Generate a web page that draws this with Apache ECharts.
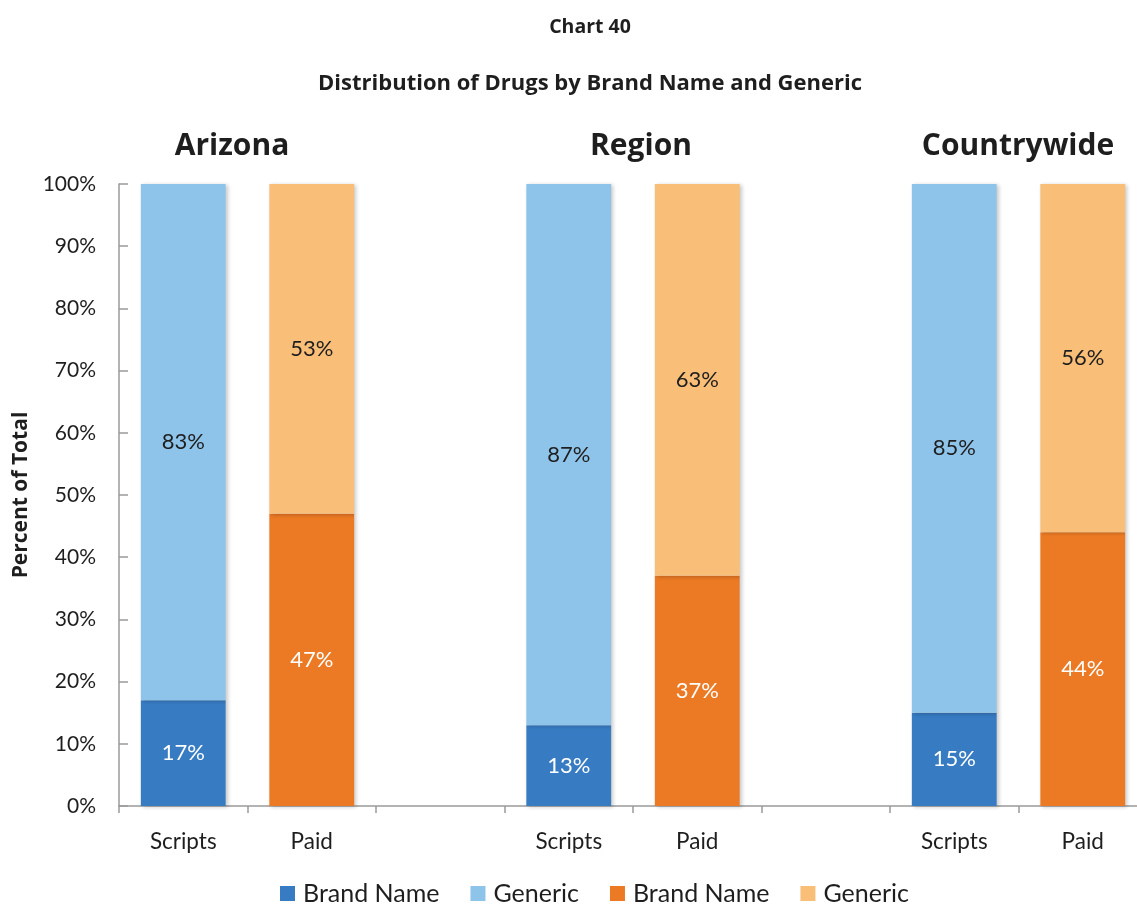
<!DOCTYPE html>
<html>
<head>
<meta charset="utf-8">
<script src="https://cdn.jsdelivr.net/npm/echarts@6/dist/echarts.min.js"></script>
<style>
  html, body { margin: 0; padding: 0; background: #fff; }
  #chart { width: 1137px; height: 905px; }
</style>
</head>
<body>
<div id="chart"></div>
<script>
// Groups shown as pairs of bars (Scripts / Paid), separated by a blank slot
const groups = ['Arizona', 'Region', 'Countrywide'];
const categories = ['Scripts', 'Paid', '', 'Scripts', 'Paid', '', 'Scripts', 'Paid'];

// Percent of total per group
const scriptsBrand = [17, 13, 15];
const scriptsGeneric = [83, 87, 85];
const paidBrand = [47, 37, 44];
const paidGeneric = [53, 63, 56];

const yTicks = [0, 10, 20, 30, 40, 50, 60, 70, 80, 90, 100];

const FONT = 'Lato, "Open Sans", sans-serif';
const BOLD_FONT = '"Open Sans", Lato, sans-serif';
const TEXT = '#1e1e1e';

// Spread per-group values onto the 8 category slots
function spread(values, slot) {
  const out = categories.map(() => null);
  values.forEach((v, g) => { out[g * 3 + slot] = v; });
  return out;
}

const barShadow = { shadowBlur: 4, shadowColor: 'rgba(0,0,0,0.22)', shadowOffsetX: 2, shadowOffsetY: 1 };

function barSeries(name, values, slot, color, labelColor) {
  return {
    name: name,
    type: 'bar',
    stack: 'total',
    barWidth: '66%',
    data: spread(values, slot),
    itemStyle: Object.assign({ color: color }, barShadow),
    label: {
      show: true,
      position: 'inside',
      formatter: p => p.value + '%',
      color: labelColor,
      fontFamily: FONT,
      fontSize: 22
    },
    emphasis: { disabled: true }
  };
}

const chart = echarts.init(document.getElementById('chart'), null, { renderer: 'canvas' });

const groupCenters = [232, 641, 1018];

chart.setOption({
  animation: false,
  backgroundColor: '#fff',
  textStyle: { fontFamily: FONT },
  graphic: [
    { type: 'text', x: 590, y: 27, style: { text: 'Chart 40', align: 'center', verticalAlign: 'middle', fontFamily: BOLD_FONT, fontWeight: 'bold', fontSize: 19.5, fill: TEXT } },
    { type: 'text', x: 590, y: 84, style: { text: 'Distribution of Drugs by Brand Name and Generic', align: 'center', verticalAlign: 'middle', fontFamily: BOLD_FONT, fontWeight: 'bold', fontSize: 22, fill: TEXT } }
  ].concat(groups.map((g, i) => ({
    type: 'text', x: groupCenters[i], y: 146,
    style: { text: g, align: 'center', verticalAlign: 'middle', fontFamily: BOLD_FONT, fontWeight: 'bold', fontSize: 30, fill: TEXT }
  }))),
  legend: {
    left: 280,
    top: 881,
    padding: 0,
    itemWidth: 15,
    itemHeight: 15,
    itemGap: 31,
    icon: 'rect',
    textStyle: { fontFamily: FONT, fontSize: 25, color: TEXT, padding: [0, 0, 0, 3] },
    formatter: n => n.trim()
  },
  grid: { left: 119, right: -10, top: 184, bottom: 99, outerBoundsMode: 'none', containLabel: false },
  xAxis: {
    type: 'category',
    data: categories,
    boundaryGap: true,
    axisLine: { lineStyle: { color: '#9a9a9a', width: 1.5 } },
    axisTick: { show: true, length: 7, lineStyle: { color: '#9a9a9a', width: 1.5 } },
    axisLabel: { color: TEXT, fontFamily: FONT, fontSize: 22.5, margin: 24, interval: 0 }
  },
  yAxis: {
    type: 'value',
    min: yTicks[0],
    max: yTicks[yTicks.length - 1],
    interval: 10,
    name: 'Percent of Total',
    nameLocation: 'middle',
    nameRotate: 90,
    nameGap: 87,
    nameTextStyle: { fontFamily: BOLD_FONT, fontWeight: 'bold', fontSize: 21, color: TEXT },
    axisLine: { show: true, lineStyle: { color: '#9a9a9a', width: 1.5 } },
    axisTick: { show: true, inside: true, length: 9, lineStyle: { color: '#9a9a9a', width: 1.5 } },
    axisLabel: { formatter: '{value}%', color: TEXT, fontFamily: FONT, fontSize: 21, margin: 23 },
    splitLine: { show: false }
  },
  series: [
    barSeries('Brand Name', scriptsBrand, 0, '#377bc2', '#ffffff'),
    barSeries('Generic', scriptsGeneric, 0, '#8fc4ea', TEXT),
    barSeries('Brand Name ', paidBrand, 1, '#ec7a24', '#ffffff'),
    barSeries('Generic ', paidGeneric, 1, '#f9be78', TEXT)
  ]
});
</script>
</body>
</html>
